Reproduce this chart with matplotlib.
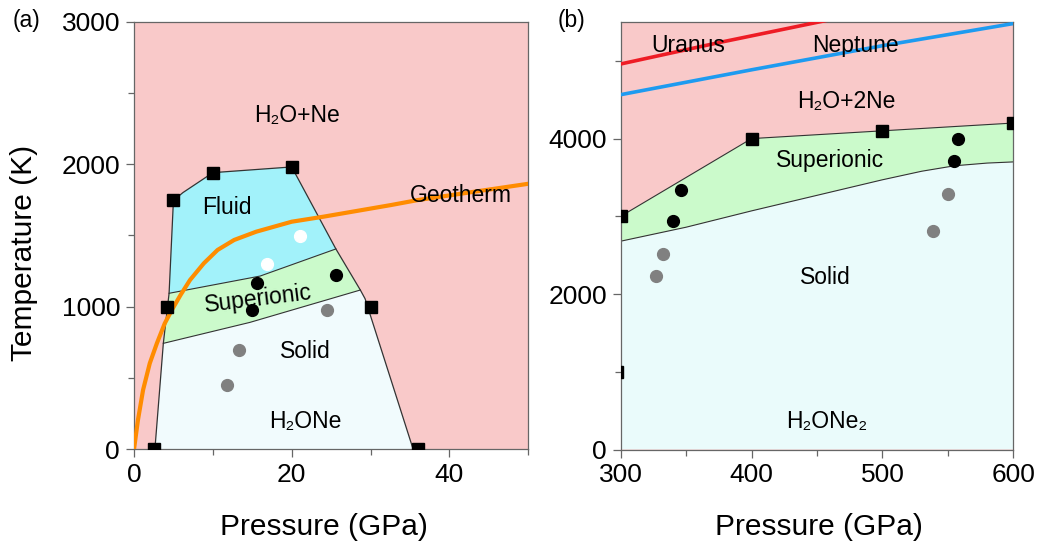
import numpy as np
import matplotlib
matplotlib.use("Agg")
import matplotlib.pyplot as plt
from matplotlib.patches import Polygon
from matplotlib.ticker import MultipleLocator

plt.rcParams['font.family'] = ['Liberation Sans', 'DejaVu Sans']

# ---------------- Panel (a) data ----------------
a_outer_P = [2.65, 3.72, 4.45, 5.0, 6.2, 10, 20, 25.6, 28.7, 29.3, 35.4]
a_outer_T = [0, 743, 1094, 1745, 1800, 1940, 1980, 1405, 1117, 1056, 0]
a_si_lower_P = [3.72, 14.7, 28.7]
a_si_lower_T = [743, 890, 1117]
a_si_upper_P = [4.45, 16.0, 25.6]
a_si_upper_T = [1094, 1215, 1405]

a_sq_P = [2.5, 4.2, 5.0, 10, 20, 30, 36]
a_sq_T = [0, 1000, 1750, 1940, 1980, 1000, 0]
a_white_P = [21, 16.9]
a_white_T = [1495, 1300]
a_black_P = [15.6, 25.6, 15.0]
a_black_T = [1166, 1220, 976]
a_gray_P = [24.5, 13.35, 11.8]
a_gray_T = [976, 695, 454]

geo_P = [0, 0.5, 1.15, 2.0, 2.9, 3.9, 4.8, 5.9, 7.1, 8.85, 10.6, 12.7, 15.5, 20, 24, 32.6, 36, 50]
geo_T = [0, 205, 416, 603, 743, 883, 977, 1082, 1187, 1304, 1398, 1468, 1526, 1596, 1631, 1713, 1748, 1862]

# ---------------- Panel (b) data ----------------
b_upper_P = [300, 400, 500, 600]
b_upper_T = [3000, 4000, 4100, 4200]
b_lower_P = [300, 350, 400, 450, 500, 530, 555, 580, 600]
b_lower_T = [2680, 2860, 3070, 3270, 3470, 3580, 3650, 3685, 3700]

b_sq_P = [300, 400, 500, 600, 297]
b_sq_T = [3000, 4000, 4100, 4200, 1000]
b_black_P = [346, 339.7, 558, 555]
b_black_T = [3338, 2944, 4000, 3714]
b_gray_P = [332, 327, 550, 538.7]
b_gray_T = [2515, 2237, 3284, 2814]

uranus_P = [300, 375, 460]
uranus_T = [4960, 5235, 5530]
neptune_P = [300, 400, 500, 600]
neptune_T = [4565, 4885, 5195, 5480]

# ---------------- colours ----------------
PINK = '#F9C9C9'
FLUID = '#A2F2FA'
GREEN = '#CBFACB'
SOLID_A = '#F1FBFD'
SOLID_B = '#EAFBFB'
EDGE = '#333333'
SPINE = '#666666'

fig = plt.figure(figsize=(10.41, 5.44), dpi=100)
ax1 = fig.add_axes([134/1041, (544-449.3)/544, (528.3-134)/1041, (449.3-21.5)/544])
ax2 = fig.add_axes([620.7/1041, (544-449.5)/544, (1013.3-620.7)/1041, (449.5-22)/544])

def style_axes(ax):
    for s in ax.spines.values():
        s.set_color(SPINE)
        s.set_linewidth(0.9)
    ax.tick_params(which='both', direction='out', color=SPINE, width=0.9,
                   top=False, right=False)
    ax.tick_params(which='major', length=6, labelsize=19, pad=4)
    ax.tick_params(which='minor', length=4)

# ---------------- Panel (a) ----------------
ax1.set_facecolor(PINK)
outer = list(zip(a_outer_P, a_outer_T))
ax1.add_patch(Polygon(outer, closed=True, facecolor=SOLID_A, edgecolor='none', zorder=1))
si_poly = outer[1:9] + list(zip(a_si_lower_P, a_si_lower_T))[::-1][1:-1]
ax1.add_patch(Polygon(si_poly, closed=True, facecolor=GREEN, edgecolor='none', zorder=1.1))
fl_poly = outer[2:8] + list(zip(a_si_upper_P, a_si_upper_T))[::-1][1:-1]
ax1.add_patch(Polygon(fl_poly, closed=True, facecolor=FLUID, edgecolor='none', zorder=1.2))
ax1.plot(a_outer_P, a_outer_T, color=EDGE, lw=0.9, zorder=2)
ax1.plot(a_si_lower_P, a_si_lower_T, color=EDGE, lw=0.8, zorder=2)
ax1.plot(a_si_upper_P, a_si_upper_T, color=EDGE, lw=0.8, zorder=2)

ax1.plot(geo_P, geo_T, color='#FF8C00', lw=3.0, zorder=3, solid_capstyle='butt')
ax1.plot(a_sq_P, a_sq_T, 's', color='black', ms=8.5, zorder=4)
ax1.plot(a_white_P, a_white_T, 'o', color='white', ms=8.5, zorder=4)
ax1.plot(a_black_P, a_black_T, 'o', color='black', ms=8.5, zorder=4)
ax1.plot(a_gray_P, a_gray_T, 'o', color='#808080', ms=8.5, zorder=4)

ax1.set_xlim(0, 50)
ax1.set_ylim(0, 3000)
ax1.xaxis.set_major_locator(MultipleLocator(20))
ax1.xaxis.set_minor_locator(MultipleLocator(10))
ax1.yaxis.set_major_locator(MultipleLocator(1000))
ax1.yaxis.set_minor_locator(MultipleLocator(500))
style_axes(ax1)

tfs = 16.5
ax1.text(20.66, 2341, 'H₂O+Ne', fontsize=tfs, ha='center', va='center', zorder=5)
ax1.text(11.8, 1695, 'Fluid', fontsize=tfs, ha='center', va='center', zorder=5)
ax1.text(15.75, 1056, 'Superionic', fontsize=tfs, ha='center', va='center', rotation=7, zorder=5)
ax1.text(21.75, 685, 'Solid', fontsize=tfs, ha='center', va='center', zorder=5)
ax1.text(21.7, 198, 'H₂ONe', fontsize=tfs, ha='center', va='center', zorder=5)
ax1.text(41.4, 1783, 'Geotherm', fontsize=tfs, ha='center', va='center', zorder=5)

ax1.set_xlabel('Pressure (GPa)', fontsize=21.5, va='center')
ax1.xaxis.set_label_coords(0.482, -0.182)
ax1.set_ylabel('Temperature (K)', fontsize=21.5, va='center')
ax1.yaxis.set_label_coords(-0.278, 0.459)

# ---------------- Panel (b) ----------------
ax2.set_facecolor(PINK)
xlo, xhi = 300, 600
solid_poly = [(xlo, 0)] + list(zip(b_lower_P, b_lower_T)) + [(xhi, 0)]
ax2.add_patch(Polygon(solid_poly, closed=True, facecolor=SOLID_B, edgecolor='none', zorder=1))
si_b = list(zip(b_upper_P, b_upper_T)) + list(zip(b_lower_P, b_lower_T))[::-1]
ax2.add_patch(Polygon(si_b, closed=True, facecolor=GREEN, edgecolor='none', zorder=1.1))
ax2.plot(b_upper_P, b_upper_T, color=EDGE, lw=0.8, zorder=2)
ax2.plot(b_lower_P, b_lower_T, color=EDGE, lw=0.8, zorder=2)

ax2.plot(uranus_P, uranus_T, color='#EE1C25', lw=2.6, zorder=3)
ax2.plot(neptune_P, neptune_T, color='#1E9BF0', lw=2.6, zorder=3)

ax2.plot(b_sq_P, b_sq_T, 's', color='black', ms=8.5, zorder=4)
ax2.plot(b_black_P, b_black_T, 'o', color='black', ms=8.5, zorder=4)
ax2.plot(b_gray_P, b_gray_T, 'o', color='#808080', ms=8.5, zorder=4)

ax2.set_xlim(300, 600)
ax2.set_ylim(0, 5500)
ax2.xaxis.set_major_locator(MultipleLocator(100))
ax2.xaxis.set_minor_locator(MultipleLocator(50))
ax2.yaxis.set_major_locator(MultipleLocator(2000))
ax2.yaxis.set_minor_locator(MultipleLocator(1000))
style_axes(ax2)

ax2.text(351.7, 5200, 'Uranus', fontsize=tfs, ha='center', va='center', zorder=5)
ax2.text(479, 5199, 'Neptune', fontsize=tfs, ha='center', va='center', zorder=5)
ax2.text(472.5, 4474, 'H₂O+2Ne', fontsize=tfs, ha='center', va='center', zorder=5)
ax2.text(459.8, 3714, 'Superionic', fontsize=tfs, ha='center', va='center', zorder=5)
ax2.text(456.7, 2215, 'Solid', fontsize=tfs, ha='center', va='center', zorder=5)
ax2.text(457.3, 358, 'H₂ONe₂', fontsize=tfs, ha='center', va='center', zorder=5)

ax2.set_xlabel('Pressure (GPa)', fontsize=21.5, va='center')
ax2.xaxis.set_label_coords(0.505, -0.182)

fig.text(26.7/1041, 1 - 21/544, '(a)', fontsize=16.5, ha='center', va='center')
fig.text(571.7/1041, 1 - 21/544, '(b)', fontsize=16.5, ha='center', va='center')

fig.savefig('out.png', dpi=100)
